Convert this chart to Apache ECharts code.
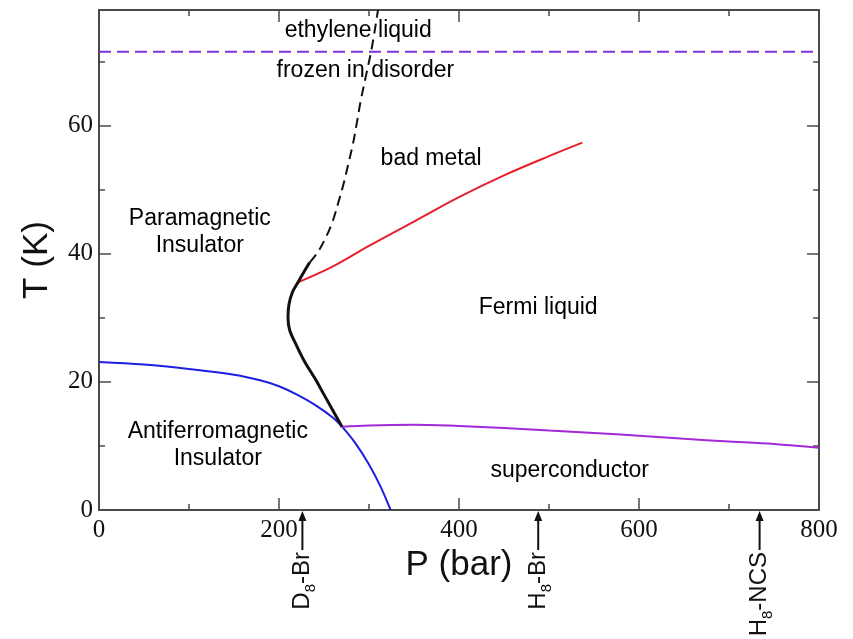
<!DOCTYPE html>
<html>
<head>
<meta charset="utf-8">
<script src="https://cdn.jsdelivr.net/npm/echarts@6/dist/echarts.min.js"></script>
<style>html,body{margin:0;padding:0;background:#fff}#c{width:853px;height:639px}</style>
</head>
<body>
<div id="c"></div>
<script>
// ---- data (P in bar, T in K) ----
const afmBoundary = [[0,23.1],[50,22.7],[100,22.0],[150,21.1],[180,20.2],[200,19.3],[220,18.0],[240,16.4],[260,14.4],[270,13.0],[285,10.4],[300,7.1],[313,3.6],[324,0]];
const scBoundary = [[270,13.0],[300,13.2],[350,13.3],[400,13.1],[450,12.8],[500,12.4],[550,12.0],[600,11.6],[650,11.1],[700,10.7],[750,10.3],[800,9.7]];
const mottSolid = [[270,13.0],[260,15.5],[250,18.0],[240,20.5],[229,23.0],[219,25.8],[212,28.0],[210,30.0],[211,32.0],[215,34.0],[221,35.5],[228,37.2],[234,38.6]];
const mottCrossover = [[234,38.6],[243,40.2],[252,42.5],[260,45.2],[266,48.0],[272,51.0],[277,54.0],[282,57.0],[286,60.0],[291,64.0],[297,68.0],[303,72.0],[310,78.0]];
const badMetalLine = [[221,35.5],[260,38.0],[300,41.2],[350,45.0],[400,48.8],[450,52.2],[500,55.2],[537,57.3]];
const glassT = 71.5;
const glassLine = [[0,glassT],[800,glassT]];
const regionLabels = ['ethylene liquid','frozen in disorder','bad metal','Paramagnetic\nInsulator','Fermi liquid','Antiferromagnetic\nInsulator','superconductor'];
const regionP = [288,296,369,112,488,132,523];
const regionT = [74.8,68.5,54.8,43.3,31.5,10.1,6.2];
const sampleNames = ['D','H','H'];
const sampleSuffix = ['-Br','-Br','-NCS'];
const sampleP = [226,488,734];
const xMajorTicks = [0,200,400,600,800];
const xMinorTicks = [100,300,500,700];
const yMajorTicks = [0,20,40,60];
const yMinorTicks = [10,30,50,70];

const SANS = 'Liberation Sans';
const SERIF = 'Liberation Serif';
const AX = '#4a4a4a';

function xAx(pos, ticks, len, showLine, showLabel) {
  return {
    type:'value', position:pos, min:0, max:800, interval:100,
    axisLine:{show:showLine, onZero:false, lineStyle:{color:AX,width:2}},
    axisTick:{show:true, inside:true, length:len, customValues:ticks, lineStyle:{color:AX,width:1.5}},
    axisLabel:{show:showLabel, customValues:xMajorTicks, fontFamily:SERIF, fontSize:25, color:'#111', margin:8},
    splitLine:{show:false},
    name: showLabel ? 'P (bar)' : '', nameLocation:'middle', nameGap:36,
    nameTextStyle:{fontFamily:SANS, fontSize:35, color:'#111'}
  };
}
function yAx(pos, ticks, len, showLine, showLabel) {
  return {
    type:'value', position:pos, min:0, max:78, interval:10,
    axisLine:{show:showLine, onZero:false, lineStyle:{color:AX,width:2}},
    axisTick:{show:true, inside:true, length:len, customValues:ticks, lineStyle:{color:AX,width:1.5}},
    axisLabel:{show:showLabel, customValues:yMajorTicks, fontFamily:SERIF, fontSize:25, color:'#111', margin:6},
    splitLine:{show:false},
    name: showLabel ? 'T (K)' : '', nameLocation:'middle', nameGap:44,
    nameTextStyle:{fontFamily:SANS, fontSize:35, color:'#111'}
  };
}

function lineSeries(data, color, width, type) {
  return {type:'line', data:data, xAxisIndex:0, yAxisIndex:0, symbol:'none', smooth:0.35,
    lineStyle:{color:color, width:width, type:type||'solid'}, silent:true, z:3};
}

const option = {
  animation:false,
  backgroundColor:'#fff',
  grid:{left:99, right:34, top:10, bottom:129, containLabel:false},
  xAxis:[xAx('bottom',xMajorTicks,12,true,true), xAx('bottom',xMinorTicks,6,false,false),
         xAx('top',xMajorTicks,12,true,false), xAx('top',xMinorTicks,6,false,false)],
  yAxis:[yAx('left',yMajorTicks,12,true,true), yAx('left',yMinorTicks,6,false,false),
         yAx('right',yMajorTicks,12,true,false), yAx('right',yMinorTicks,6,false,false)],
  series:[
    Object.assign(lineSeries(glassLine,'#7b34d6',2,[12,6]),{smooth:false}),
    lineSeries(afmBoundary,'#1e1ee0',2),
    lineSeries(scBoundary,'#a22ad8',2),
    lineSeries(badMetalLine,'#e8202a',2),
    lineSeries(mottCrossover,'#111',2,[10,6]),
    lineSeries(mottSolid,'#111',3),
    {
      type:'scatter', xAxisIndex:0, yAxisIndex:0, symbolSize:0, silent:true, z:5,
      itemStyle:{opacity:1},
      data: regionLabels.map((t,i)=>({value:[regionP[i],regionT[i]], name:t})),
      label:{show:true, position:'inside', formatter:(p)=>p.name, color:'#000', opacity:1,
        textBorderWidth:0, fontFamily:SANS, fontSize:23, lineHeight:27, align:'center', verticalAlign:'middle'}
    },
    {
      type:'custom', xAxisIndex:0, yAxisIndex:0, clip:false, silent:true, z:6,
      data: sampleP.map(p=>[p,0]),
      renderItem:(params, api)=>{
        const pt = api.coord([api.value(0), 0]);
        const x = pt[0], y0 = pt[1];
        const i = params.dataIndex;
        return {type:'group', children:[
          {type:'line', shape:{x1:x,y1:y0+8,x2:x,y2:y0+40}, style:{stroke:'#111', lineWidth:2}},
          {type:'polygon', shape:{points:[[x,y0+1],[x-4,y0+11],[x+4,y0+11]]}, style:{fill:'#111'}},
          {type:'text', x:x+2, y:y0+42, rotation:Math.PI/2, style:{
            text:'{a|'+sampleNames[i]+'}{s|8}{a|'+sampleSuffix[i]+'}',
            align:'right', verticalAlign:'middle',
            rich:{
              a:{fontFamily:SANS, fontSize:24, lineHeight:28, verticalAlign:'top', fill:'#111'},
              s:{fontFamily:SANS, fontSize:15, verticalAlign:'bottom', fill:'#111'}
            }
          }}
        ]};
      }
    }
  ]
};
const chart = echarts.init(document.getElementById('c'), null, {renderer:'canvas'});
chart.setOption(option);
</script>
</body>
</html>
